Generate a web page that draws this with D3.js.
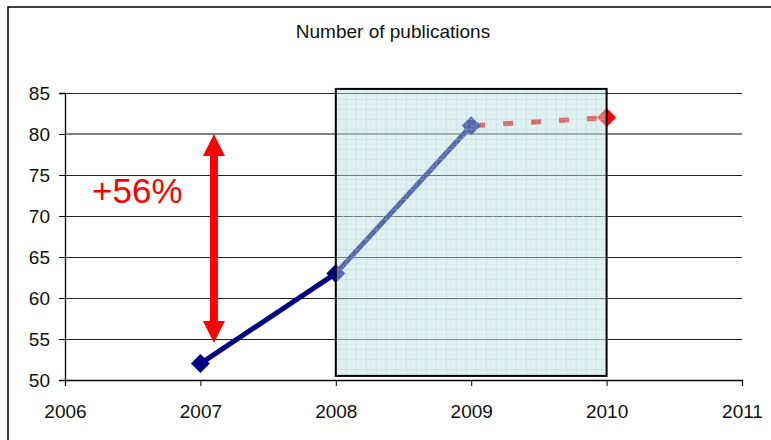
<!DOCTYPE html>
<html>
<head>
<meta charset="utf-8">
<script src="https://cdn.jsdelivr.net/npm/d3@7"></script>
<style>
html,body{margin:0;padding:0;background:#fff;}
svg{display:block;font-family:"Liberation Sans",Arial,sans-serif;}
</style>
</head>
<body>
<svg id="chart" width="771" height="440"></svg>
<script>
// ---- data ----
const years = [2007, 2008, 2009, 2010];
const publications = [52, 63, 81, 82];
const xTicks = [2006, 2007, 2008, 2009, 2010, 2011];
const yTicks = [50, 55, 60, 65, 70, 75, 80, 85];
const highlightYears = [2008, 2010];
const highlightRange = [50.5, 85.5];
const arrowYear = 2007.1;
const arrowRange = [54.5, 80];
const growthLabel = "+56%";
const growthPos = [2006.2, 71.6];
const title = "Number of publications";

const svg = d3.select("#chart");
const x = d3.scaleLinear().domain([2006, 2011]).range([65, 742]);
const y = d3.scaleLinear().domain([50, 85]).range([380, 93]);

// outer border
svg.append("rect").attr("x", 8).attr("y", 7).attr("width", 800).attr("height", 480)
  .attr("fill", "#fff").attr("stroke", "#000").attr("stroke-width", 1.5);

// title
svg.append("text").attr("x", 393).attr("y", 38).attr("text-anchor", "middle")
  .attr("font-size", 19).attr("fill", "#111").text(title);

// defs: pattern
const defs = svg.append("defs");
const pat = defs.append("pattern").attr("id", "grid").attr("patternUnits", "userSpaceOnUse")
  .attr("width", 10).attr("height", 10).attr("x", x(highlightYears[0])).attr("y", y(highlightRange[1]));
pat.append("rect").attr("width", 10).attr("height", 10).attr("fill", "rgba(188,224,224,0.45)");
pat.append("path").attr("d", "M0,0.5H10M0.5,0V10").attr("stroke", "rgba(150,208,208,0.35)").attr("stroke-width", 1);
pat.append("path").attr("d", "M0,5.5H10M5.5,0V10").attr("stroke", "rgba(170,215,215,0.12)").attr("stroke-width", 1);
pat.append("rect").attr("x", 7).attr("y", 7).attr("width", 1).attr("height", 1).attr("fill", "rgba(255,255,255,0.6)");

// gridlines
svg.append("g").selectAll("line").data(yTicks.filter(d => d > 50)).join("line")
  .attr("x1", x(2006)).attr("x2", x(2011))
  .attr("y1", d => y(d)).attr("y2", d => y(d))
  .attr("stroke", d => d === 80 ? "#808080" : "#222")
  .attr("stroke-width", d => d === 80 ? 2 : 1)
  .attr("shape-rendering", "crispEdges");

// axes
const yAxis = d3.axisLeft(y).tickValues(yTicks).tickSize(6).tickPadding(9).tickFormat(d3.format("d"));
const gy = svg.append("g").attr("transform", `translate(${x(2006)},0)`).call(yAxis);
gy.select(".domain").attr("stroke", "#000").attr("stroke-width", 1.3);
gy.selectAll(".tick line").attr("stroke", "#000");
gy.selectAll(".tick text").attr("font-size", 19).attr("fill", "#111")
  .attr("font-family", "'Liberation Sans',Arial,sans-serif");

const xAxis = d3.axisBottom(x).tickValues(xTicks).tickSize(6).tickPadding(19).tickFormat(d3.format("d"));
const gx = svg.append("g").attr("transform", `translate(0,${y(50)})`).call(xAxis);
gx.select(".domain").attr("stroke", "#000").attr("stroke-width", 1.3);
gx.selectAll(".tick line").attr("stroke", "#000");
gx.selectAll(".tick text").attr("font-size", 19).attr("fill", "#111")
  .attr("font-family", "'Liberation Sans',Arial,sans-serif");

// data
const pts = years.map((yr, i) => ({yr, v: publications[i]}));
const line = d3.line().x(d => x(d.yr)).y(d => y(d.v));
svg.append("path").datum(pts.slice(0, 3)).attr("d", line)
  .attr("fill", "none").attr("stroke", "#000080").attr("stroke-width", 5).attr("stroke-linejoin", "round");
svg.append("path").datum(pts.slice(2, 4)).attr("d", line)
  .attr("fill", "none").attr("stroke", "#ff0000").attr("stroke-width", 5)
  .attr("stroke-dasharray", "10 18").attr("stroke-dashoffset", -4);

const diamond = (cx, cy, r) => `M${cx},${cy - r}L${cx + r},${cy}L${cx},${cy + r}L${cx - r},${cy}Z`;
svg.append("g").selectAll("path").data(pts).join("path")
  .attr("d", d => diamond(x(d.yr), y(d.v), 9.5))
  .attr("fill", d => d.yr === 2010 ? "#ff0000" : "#000080");

// highlight rect overlay
const hx0 = x(highlightYears[0]), hx1 = x(highlightYears[1]);
const hy0 = y(highlightRange[1]), hy1 = y(highlightRange[0]);
svg.append("rect").attr("x", hx0).attr("y", hy0).attr("width", hx1 - hx0).attr("height", hy1 - hy0)
  .attr("fill", "url(#grid)").attr("stroke", "#000").attr("stroke-width", 2);

// arrow
const ax = x(arrowYear), aTop = y(arrowRange[1]), aBot = y(arrowRange[0]);
const headH = 22, headW = 11, shaft = 4;
svg.append("path")
  .attr("d", `M${ax},${aTop}L${ax + headW},${aTop + headH}L${ax + shaft},${aTop + headH}L${ax + shaft},${aBot - headH}L${ax + headW},${aBot - headH}L${ax},${aBot}L${ax - headW},${aBot - headH}L${ax - shaft},${aBot - headH}L${ax - shaft},${aTop + headH}L${ax - headW},${aTop + headH}Z`)
  .attr("fill", "#ff0000");

svg.append("text").attr("x", x(growthPos[0])).attr("y", y(growthPos[1]))
  .attr("font-size", 35).attr("fill", "#ff0000").text(growthLabel);
</script>
</body>
</html>
